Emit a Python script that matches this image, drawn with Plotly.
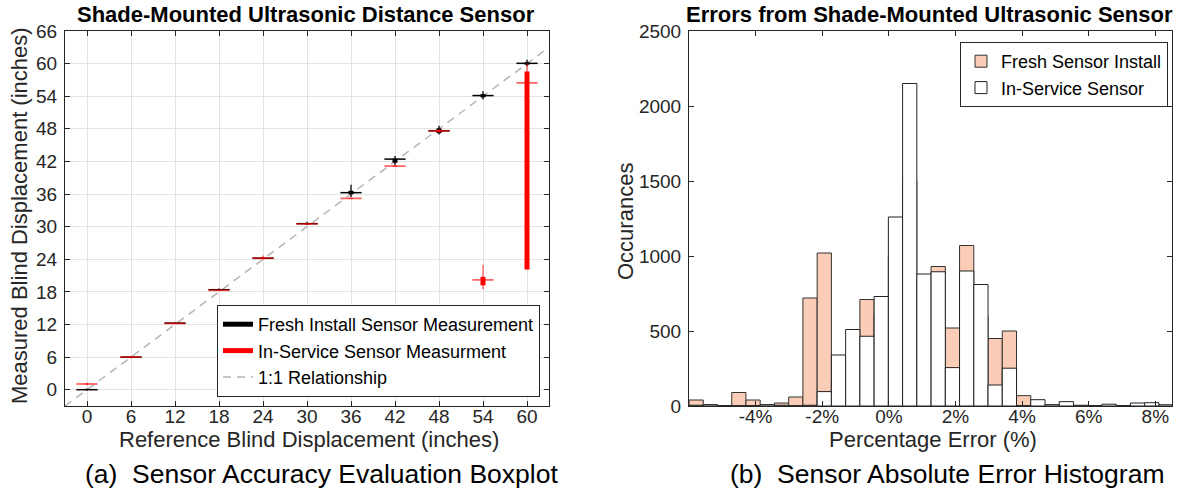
import plotly.graph_objects as go

FONT = "Liberation Sans, Arial, Helvetica, sans-serif"
W, H = 1179, 498

# ---------------- Panel (a): boxplot data ----------------
ref_positions = [0, 6, 12, 18, 24, 30, 36, 42, 48, 54, 60]
ref_tick_labels = ["0", "6", "12", "18", "24", "30", "36", "42", "48", "54", "60"]
meas_tick_vals = [0, 6, 12, 18, 24, 30, 36, 42, 48, 54, 60, 66]
meas_tick_labels = ["0", "6", "12", "18", "24", "30", "36", "42", "48", "54", "60", "66"]

fresh_median = [0.0, 6.0, 12.25, 18.4, 24.2, 30.55, 36.25, 42.43, 47.63, 54.12, 60.05]
fresh_q1 = [-0.05, 5.95, 12.2, 18.35, 24.15, 30.45, 35.95, 41.75, 47.2, 53.8, 59.8]
fresh_q3 = [0.05, 6.05, 12.3, 18.45, 24.25, 30.65, 36.6, 42.5, 48.1, 54.4, 60.25]
fresh_lo = [-0.2, 5.8, 12.1, 18.25, 24.05, 30.3, 35.45, 41.3, 46.96, 53.4, 59.5]
fresh_hi = [0.2, 6.2, 12.4, 18.6, 24.4, 30.9, 37.7, 43.0, 48.55, 54.9, 60.7]

service_median = [1.05, 6.0, 12.2, 18.3, 24.2, 30.5, 35.2, 41.14, 47.63, 20.2, 56.45]
service_q1 = [1.0, 5.95, 12.15, 18.25, 24.1, 30.45, 35.15, 41.1, 47.45, 19.2, 22.1]
service_q3 = [1.1, 6.05, 12.25, 18.35, 24.3, 30.55, 35.25, 41.2, 47.8, 20.76, 58.53]
service_lo = [0.8, 5.85, 12.1, 18.15, 23.9, 30.35, 35.1, 41.0, 47.3, 18.5, 22.1]
service_hi = [1.3, 6.15, 12.3, 18.45, 24.7, 30.65, 35.3, 41.25, 47.95, 23.0, 60.0]

# ---------------- Panel (b): histogram data ----------------
bin_edges = [-6.0, -5.5725, -5.145, -4.7175, -4.29, -3.8625, -3.435, -3.0075,
             -2.58, -2.1525, -1.725, -1.2975, -0.87, -0.4425, -0.015, 0.4125,
             0.84, 1.2675, 1.695, 2.1225, 2.55, 2.9775, 3.405, 3.8325, 4.26,
             4.6875, 5.115, 5.5425, 5.97, 6.3975, 6.825, 7.2525, 7.68, 8.1075, 8.535]
fresh_counts = [40, 10, 3, 90, 40, 10, 20, 60, 720, 1020, 180, 300, 710, 600,
                1000, 1500, 700, 930, 520, 1070, 600, 450, 500, 69, 15, 8, 5, 3,
                2, 3, 2, 5, 8, 5]
service_counts = [5, 8, 3, 2, 2, 8, 5, 2, 5, 96, 340, 510, 465, 730, 1260, 2150,
                  880, 895, 256, 900, 810, 140, 252, 2, 42, 8, 29, 5, 2, 12, 3, 20,
                  22, 8]
pct_tick_vals = [-4, -2, 0, 2, 4, 6, 8]
pct_tick_labels = ["-4%", "-2%", "0%", "2%", "4%", "6%", "8%"]
count_tick_vals = [0, 500, 1000, 1500, 2000, 2500]
count_tick_labels = ["0", "500", "1000", "1500", "2000", "2500"]

# ---------------- layout constants ----------------
X_RANGE_A = [-3, 63]
Y_RANGE_A = [-3, 66]
X_RANGE_B = [-6, 8.5]
Y_RANGE_B = [0, 2500]
MED_HALF = 1.45

AXC = "#262626"


def vsegs(xs, lo, hi):
    X, Y = [], []
    for x, a, b in zip(xs, lo, hi):
        X += [x, x, None]
        Y += [a, b, None]
    return X, Y


def hsegs(xs, ys, half):
    X, Y = [], []
    for x, y in zip(xs, ys):
        X += [x - half, x + half, None]
        Y += [y, y, None]
    return X, Y


fig = go.Figure()

# 1:1 line
fig.add_trace(go.Scatter(x=X_RANGE_A, y=X_RANGE_A, mode="lines",
                         line=dict(color="#b5b5b5", width=1.5, dash="8px,6px"),
                         name="1:1 Relationship", legendrank=3, legend="legend",
                         hoverinfo="skip"))

# fresh sensor
wx, wy = vsegs(ref_positions, fresh_lo, fresh_hi)
fig.add_trace(go.Scatter(x=wx, y=wy, mode="lines", line=dict(color="black", width=1.3),
                         showlegend=False, hoverinfo="skip"))
bx, by = vsegs(ref_positions, fresh_q1, fresh_q3)
fig.add_trace(go.Scatter(x=bx, y=by, mode="lines", line=dict(color="black", width=5),
                         name="Fresh Install Sensor Measurement", legendrank=1,
                         legend="legend", hoverinfo="skip"))
mx, my = hsegs(ref_positions, fresh_median, MED_HALF)
fig.add_trace(go.Scatter(x=mx, y=my, mode="lines", line=dict(color="black", width=1.5),
                         showlegend=False, hoverinfo="skip"))

# in-service sensor
wx, wy = vsegs(ref_positions, service_lo, service_hi)
fig.add_trace(go.Scatter(x=wx, y=wy, mode="lines",
                         line=dict(color="rgba(255,0,0,0.55)", width=1.5),
                         showlegend=False, hoverinfo="skip"))
bx, by = vsegs(ref_positions, service_q1, service_q3)
fig.add_trace(go.Scatter(x=bx, y=by, mode="lines", line=dict(color="#ff0000", width=5),
                         name="In-Service Sensor Measurment", legendrank=2,
                         legend="legend", hoverinfo="skip"))
mx, my = hsegs(ref_positions, service_median, MED_HALF)
fig.add_trace(go.Scatter(x=mx, y=my, mode="lines",
                         line=dict(color="rgba(255,0,0,0.6)", width=1.8),
                         showlegend=False, hoverinfo="skip"))

# histogram
centers = [(a + b) / 2 for a, b in zip(bin_edges[:-1], bin_edges[1:])]
widths = [b - a for a, b in zip(bin_edges[:-1], bin_edges[1:])]
fig.add_trace(go.Bar(x=centers, y=fresh_counts, width=widths, xaxis="x2", yaxis="y2",
                     marker=dict(color="rgb(252,205,182)", line=dict(color="#333333", width=1)),
                     name="Fresh Sensor Install", legend="legend2", legendrank=1))
fig.add_trace(go.Bar(x=centers, y=service_counts, width=widths, xaxis="x2", yaxis="y2",
                     marker=dict(color="white", line=dict(color="#222222", width=1)),
                     name="In-Service Sensor", legend="legend2", legendrank=2))

tickfont = dict(size=19, color=AXC, family=FONT)
common = dict(showline=True, linecolor=AXC, linewidth=1, mirror="ticks", ticks="inside",
              ticklen=5, tickcolor=AXC, tickfont=tickfont, zeroline=False,
              fixedrange=True, automargin=False)

XD_A = [65 / W, 549 / W]
XD_B = [689 / W, 1172 / W]
YD = [(H - 406) / H, (H - 31) / H]

fig.update_layout(
    width=W, height=H, margin=dict(l=0, r=0, t=0, b=0, autoexpand=False),
    paper_bgcolor="white", plot_bgcolor="white",
    font=dict(family=FONT, color=AXC),
    barmode="overlay",
    xaxis=dict(domain=XD_A, range=X_RANGE_A, tickvals=ref_positions, ticktext=ref_tick_labels,
               showgrid=True, gridcolor="#e3e3e3", gridwidth=1, anchor="y",
               ticklabelstandoff=-7, **common),
    yaxis=dict(domain=YD, range=Y_RANGE_A, tickvals=meas_tick_vals, ticktext=meas_tick_labels,
               showgrid=True, gridcolor="#e3e3e3", gridwidth=1, anchor="x",
               ticklabelstandoff=3, **common),
    xaxis2=dict(domain=XD_B, range=X_RANGE_B, tickvals=pct_tick_vals, ticktext=pct_tick_labels,
                showgrid=False, anchor="y2", ticklabelstandoff=-7, **common),
    yaxis2=dict(domain=YD, range=Y_RANGE_B, tickvals=count_tick_vals, ticktext=count_tick_labels,
                showgrid=False, anchor="x2", ticklabelstandoff=3, **common),
    legend=dict(x=540 / W, xanchor="right", y=(H - 397) / H, yanchor="bottom",
                bgcolor="white", bordercolor=AXC, borderwidth=1,
                font=dict(size=18, color="black", family=FONT), tracegroupgap=0,
                itemwidth=30),
    legend2=dict(x=1168 / W, xanchor="right", y=(H - 42) / H, yanchor="top",
                 bgcolor="white", bordercolor=AXC, borderwidth=1,
                 font=dict(size=18, color="black", family=FONT), tracegroupgap=0,
                 itemwidth=30),
)

ann = [
    dict(text="<b>Shade-Mounted Ultrasonic Distance Sensor</b>", x=306 / W, y=(H - 14) / H,
         font=dict(size=22, color="black")),
    dict(text="<b>Errors from Shade-Mounted Ultrasonic Sensor</b>", x=929 / W, y=(H - 14) / H,
         font=dict(size=22, color="black")),
    dict(text="Reference Blind Displacement (inches)", x=309 / W, y=(H - 439) / H,
         font=dict(size=22, color=AXC)),
    dict(text="Percentage Error (%)", x=933 / W, y=(H - 439) / H,
         font=dict(size=22, color=AXC)),
    dict(text="Measured Blind Displacement (inches)", x=20 / W, y=(H - 216) / H,
         textangle=-90, font=dict(size=22, color=AXC)),
    dict(text="Occurances", x=625 / W, y=(H - 222) / H,
         textangle=-90, font=dict(size=22, color=AXC)),
    dict(text="(a)  Sensor Accuracy Evaluation Boxplot", x=321 / W, y=(H - 474) / H,
         font=dict(size=26.5, color="black")),
    dict(text="(b)  Sensor Absolute Error Histogram", x=947 / W, y=(H - 474) / H,
         font=dict(size=26.5, color="black")),
]
for a in ann:
    a.update(xref="paper", yref="paper", showarrow=False, xanchor="center", yanchor="middle")
    a["font"]["family"] = FONT
fig.update_layout(annotations=ann)

fig.write_html("out.html")
